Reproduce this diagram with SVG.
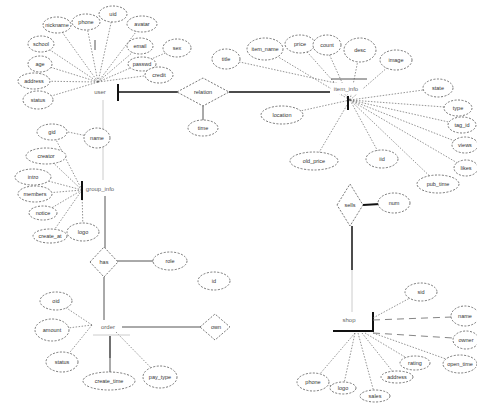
<svg xmlns="http://www.w3.org/2000/svg" width="477" height="408" viewBox="0 0 477 408">
<style>
.at{fill:#fff;stroke:#555;stroke-width:0.8;stroke-dasharray:2 1.5}
.rl{fill:#fff;stroke:#555;stroke-width:0.8;stroke-dasharray:2 1.5}
.dl{stroke:#666;stroke-width:0.7;stroke-dasharray:1.5 1.5;fill:none}
.ld{stroke:#777;stroke-width:0.9;stroke-dasharray:7 5;fill:none}
.sl{stroke:#555;stroke-width:1;fill:none}
.fl{stroke:#ccc;stroke-width:1;fill:none}
.tk{stroke:#111;stroke-width:2;fill:none}
.bg{fill:#fff;stroke:none}
.t{font-family:"Liberation Sans",sans-serif;font-size:5.5px;fill:#333;text-anchor:middle;dominant-baseline:central}
.et{font-family:"Liberation Sans",sans-serif;font-size:6px;fill:#666;text-anchor:middle;dominant-baseline:central}
</style>
<rect width="477" height="408" fill="#fff"/>
<g id="connectors">
  <line class="dl" x1="98" y1="82" x2="57" y2="25"/>
  <line class="dl" x1="98" y1="82" x2="86" y2="22"/>
  <line class="dl" x1="98" y1="82" x2="113" y2="14"/>
  <line class="dl" x1="98" y1="82" x2="142" y2="24"/>
  <line class="dl" x1="98" y1="82" x2="140" y2="46"/>
  <line class="dl" x1="98" y1="82" x2="142" y2="63"/>
  <line class="dl" x1="98" y1="82" x2="159" y2="74"/>
  <line class="dl" x1="98" y1="82" x2="41" y2="44"/>
  <line class="dl" x1="98" y1="82" x2="40" y2="64"/>
  <line class="dl" x1="98" y1="82" x2="34" y2="81"/>
  <line class="dl" x1="98" y1="82" x2="38" y2="100"/>
  <line class="dl" x1="142" y1="63" x2="177" y2="48"/>
  <line class="sl" x1="95" y1="40" x2="95" y2="50"/>
  <line class="tk" x1="118" y1="84" x2="118" y2="101"/>
  <line class="tk" x1="118" y1="92" x2="178" y2="92" style="stroke-width:1.5"/>
  <line class="sl" x1="203" y1="105" x2="203" y2="121"/>
  <line class="tk" x1="229" y1="92" x2="330" y2="92" style="stroke-width:1.5"/>
  <line class="fl" x1="103" y1="100" x2="103" y2="180"/>
  <line class="dl" x1="350" y1="100" x2="265" y2="49"/>
  <line class="dl" x1="350" y1="100" x2="300" y2="44"/>
  <line class="dl" x1="350" y1="100" x2="325" y2="45"/>
  <line class="dl" x1="350" y1="100" x2="360" y2="50"/>
  <line class="dl" x1="350" y1="100" x2="396" y2="60"/>
  <line class="dl" x1="350" y1="100" x2="438" y2="88"/>
  <line class="dl" x1="350" y1="100" x2="458" y2="108"/>
  <line class="dl" x1="350" y1="100" x2="462" y2="125"/>
  <line class="dl" x1="350" y1="100" x2="465" y2="145"/>
  <line class="dl" x1="350" y1="100" x2="466" y2="168"/>
  <line class="dl" x1="350" y1="100" x2="438" y2="184"/>
  <line class="dl" x1="350" y1="100" x2="382" y2="159"/>
  <line class="dl" x1="350" y1="100" x2="314" y2="161"/>
  <line class="dl" x1="350" y1="100" x2="282" y2="115"/>
  <line class="dl" x1="340" y1="84" x2="226" y2="59"/>
  <line class="sl" x1="331" y1="79" x2="367" y2="79"/>
  <line class="tk" x1="348" y1="96" x2="348" y2="110"/>
  <line class="tk" x1="363" y1="205" x2="380" y2="204"/>
  <line class="tk" x1="352" y1="226" x2="352" y2="270" style="stroke-width:1.5"/>
  <line class="fl" x1="352" y1="270" x2="352" y2="312"/>
  <line class="dl" x1="82" y1="190" x2="52" y2="132"/>
  <line class="dl" x1="68" y1="132" x2="97" y2="138"/>
  <line class="dl" x1="82" y1="190" x2="46" y2="156"/>
  <line class="dl" x1="82" y1="190" x2="33" y2="177"/>
  <line class="dl" x1="82" y1="190" x2="35" y2="194"/>
  <line class="dl" x1="82" y1="190" x2="43" y2="213"/>
  <line class="dl" x1="82" y1="190" x2="50" y2="236"/>
  <line class="dl" x1="82" y1="190" x2="83" y2="232"/>
  <line class="tk" x1="82" y1="181" x2="82" y2="200"/>
  <line class="sl" x1="105" y1="196" x2="105" y2="248"/>
  <line class="sl" x1="117" y1="261" x2="155" y2="261"/>
  <line class="sl" x1="104" y1="277" x2="104" y2="320"/>
  <line class="sl" x1="122" y1="327" x2="201" y2="327"/>
  <line class="dl" x1="92" y1="325" x2="56" y2="301"/>
  <line class="dl" x1="92" y1="325" x2="52" y2="330"/>
  <line class="dl" x1="92" y1="325" x2="62" y2="362"/>
  <line class="dl" x1="116" y1="332" x2="160" y2="377"/>
  <line class="fl" x1="93" y1="335" x2="130" y2="335"/>
  <line class="tk" x1="110" y1="336" x2="110" y2="358" style="stroke-width:1.2"/>
  <line class="sl" x1="110" y1="358" x2="110" y2="372"/>
  <line class="tk" x1="373" y1="312" x2="373" y2="332"/>
  <line class="tk" x1="333" y1="331" x2="374" y2="331"/>
  <line class="dl" x1="373" y1="318" x2="421" y2="292"/>
  <line class="ld" x1="373" y1="320" x2="452" y2="317"/>
  <line class="ld" x1="373" y1="333" x2="453" y2="338"/>
  <line class="dl" x1="373" y1="333" x2="460" y2="364"/>
  <line class="dl" x1="365" y1="333" x2="415" y2="363"/>
  <line class="dl" x1="362" y1="333" x2="397" y2="377"/>
  <line class="dl" x1="355" y1="333" x2="313" y2="382"/>
  <line class="dl" x1="355" y1="333" x2="343" y2="388"/>
  <line class="dl" x1="358" y1="333" x2="375" y2="396"/>
  <line class="dl" x1="343" y1="388" x2="313" y2="382"/>
</g>
<g id="e_user"><rect class="bg" x="86" y="86" width="30" height="12"/><text class="et" x="100" y="92">user</text></g>
<g id="e_item"><rect class="bg" x="331" y="83" width="32" height="11"/><text class="et" x="346" y="89">item_info</text></g>
<g id="e_group"><rect class="bg" x="85" y="184" width="32" height="11"/><text class="et" x="100" y="189">group_info</text></g>
<g id="e_order"><rect class="bg" x="96" y="322" width="24" height="10"/><text class="et" x="108" y="327">order</text></g>
<g id="e_shop"><rect class="bg" x="338" y="315" width="24" height="10"/><text class="et" x="349" y="320">shop</text></g>
<g id="r1"><polygon class="rl" points="177,92 203,78 229,92 203,106"/><text class="t" x="203" y="92">relation</text></g>
<g id="r2"><polygon class="rl" points="90,262 104,247 118,262 104,277"/><text class="t" x="104" y="262">has</text></g>
<g id="r3"><polygon class="rl" points="200,327 215,314 230,327 215,340"/><text class="t" x="216" y="327">own</text></g>
<g id="r4"><polygon class="rl" points="337,205 350,184 363,205 350,226"/><text class="t" x="350" y="205">sells</text></g>
<g id="a1"><ellipse class="at" cx="57" cy="25" rx="14" ry="8"/><text class="t" x="57" y="25">nickname</text></g>
<g id="a2"><ellipse class="at" cx="86" cy="22" rx="14" ry="8"/><text class="t" x="86" y="22">phone</text></g>
<g id="a3"><ellipse class="at" cx="113" cy="14" rx="14" ry="8"/><text class="t" x="113" y="14">uid</text></g>
<g id="a4"><ellipse class="at" cx="142" cy="24" rx="15" ry="8"/><text class="t" x="142" y="24">avatar</text></g>
<g id="a5"><ellipse class="at" cx="140" cy="46" rx="13" ry="8"/><text class="t" x="140" y="46">email</text></g>
<g id="a6"><ellipse class="at" cx="177" cy="48" rx="14" ry="9"/><text class="t" x="177" y="48">sex</text></g>
<g id="a7"><ellipse class="at" cx="142" cy="64" rx="14" ry="7"/><text class="t" x="142" y="64">passwd</text></g>
<g id="a8"><ellipse class="at" cx="159" cy="75" rx="14" ry="8"/><text class="t" x="159" y="75">credit</text></g>
<g id="a9"><ellipse class="at" cx="41" cy="44" rx="13" ry="8"/><text class="t" x="41" y="44">school</text></g>
<g id="a10"><ellipse class="at" cx="40" cy="64" rx="12" ry="8"/><text class="t" x="40" y="64">age</text></g>
<g id="a11"><ellipse class="at" cx="34" cy="81" rx="16" ry="8"/><text class="t" x="34" y="81">address</text></g>
<g id="a12"><ellipse class="at" cx="38" cy="100" rx="15" ry="9"/><text class="t" x="38" y="100">status</text></g>
<g id="a13"><ellipse class="at" cx="203" cy="128" rx="15" ry="8"/><text class="t" x="203" y="128">time</text></g>
<g id="e0"><ellipse class="at" cx="226" cy="59" rx="14" ry="10"/><text class="t" x="226" y="59">title</text></g>
<g id="e1"><ellipse class="at" cx="265" cy="49" rx="18" ry="11"/><text class="t" x="265" y="49">item_name</text></g>
<g id="e2"><ellipse class="at" cx="300" cy="44" rx="15" ry="9"/><text class="t" x="300" y="44">price</text></g>
<g id="e3"><ellipse class="at" cx="327" cy="45" rx="14" ry="10"/><text class="t" x="327" y="45">count</text></g>
<g id="e4"><ellipse class="at" cx="360" cy="50" rx="16" ry="12"/><text class="t" x="360" y="50">desc</text></g>
<g id="e5"><ellipse class="at" cx="396" cy="60" rx="16" ry="10"/><text class="t" x="396" y="60">image</text></g>
<g id="e6"><ellipse class="at" cx="438" cy="88" rx="15" ry="9"/><text class="t" x="438" y="88">state</text></g>
<g id="e7"><ellipse class="at" cx="458" cy="108" rx="14" ry="8"/><text class="t" x="458" y="108">type</text></g>
<g id="e8"><ellipse class="at" cx="462" cy="125" rx="14" ry="8"/><text class="t" x="462" y="125">tag_id</text></g>
<g id="e9"><ellipse class="at" cx="465" cy="145" rx="13" ry="8"/><text class="t" x="465" y="145">views</text></g>
<g id="e10"><ellipse class="at" cx="466" cy="168" rx="12" ry="8"/><text class="t" x="466" y="168">likes</text></g>
<g id="e11"><ellipse class="at" cx="438" cy="184" rx="21" ry="9"/><text class="t" x="438" y="184">pub_time</text></g>
<g id="e12"><ellipse class="at" cx="382" cy="159" rx="16" ry="9"/><text class="t" x="382" y="159">iid</text></g>
<g id="e13"><ellipse class="at" cx="314" cy="161" rx="24" ry="9"/><text class="t" x="314" y="161">old_price</text></g>
<g id="e14"><ellipse class="at" cx="282" cy="115" rx="21" ry="9"/><text class="t" x="282" y="115">location</text></g>
<g id="f1"><ellipse class="at" cx="394" cy="203" rx="16" ry="10"/><text class="t" x="394" y="203">num</text></g>
<g id="b1"><ellipse class="at" cx="52" cy="132" rx="15" ry="8"/><text class="t" x="52" y="132">gid</text></g>
<g id="b2"><ellipse class="at" cx="97" cy="138" rx="13" ry="10"/><text class="t" x="97" y="138">name</text></g>
<g id="b3"><ellipse class="at" cx="46" cy="156" rx="20" ry="8"/><text class="t" x="46" y="156">creator</text></g>
<g id="b4"><ellipse class="at" cx="33" cy="177" rx="18" ry="8"/><text class="t" x="33" y="177">intro</text></g>
<g id="b5"><ellipse class="at" cx="35" cy="194" rx="17" ry="8"/><text class="t" x="35" y="194">members</text></g>
<g id="b6"><ellipse class="at" cx="43" cy="213" rx="14" ry="7"/><text class="t" x="43" y="213">notice</text></g>
<g id="b7"><ellipse class="at" cx="50" cy="236" rx="17" ry="7"/><text class="t" x="50" y="236">create_at</text></g>
<g id="b8"><ellipse class="at" cx="83" cy="232" rx="16" ry="9"/><text class="t" x="83" y="232">logo</text></g>
<g id="c1"><ellipse class="at" cx="170" cy="261" rx="17" ry="9"/><text class="t" x="170" y="261">role</text></g>
<g id="c2"><ellipse class="at" cx="214" cy="281" rx="16" ry="9"/><text class="t" x="214" y="281">id</text></g>
<g id="d1"><ellipse class="at" cx="56" cy="301" rx="16" ry="9"/><text class="t" x="56" y="301">oid</text></g>
<g id="d2"><ellipse class="at" cx="52" cy="330" rx="17" ry="11"/><text class="t" x="52" y="330">amount</text></g>
<g id="d3"><ellipse class="at" cx="62" cy="362" rx="16" ry="10"/><text class="t" x="62" y="362">status</text></g>
<g id="d4"><ellipse class="at" cx="109" cy="381" rx="26" ry="9"/><text class="t" x="109" y="381">create_time</text></g>
<g id="d5"><ellipse class="at" cx="160" cy="377" rx="17" ry="11"/><text class="t" x="160" y="377">pay_type</text></g>
<g id="g1"><ellipse class="at" cx="421" cy="292" rx="16" ry="9"/><text class="t" x="421" y="292">sid</text></g>
<g id="g2"><ellipse class="at" cx="465" cy="316" rx="14" ry="10"/><text class="t" x="465" y="316">name</text></g>
<g id="g3"><ellipse class="at" cx="466" cy="340" rx="13" ry="9"/><text class="t" x="466" y="340">owner</text></g>
<g id="g4"><ellipse class="at" cx="460" cy="364" rx="17" ry="9"/><text class="t" x="460" y="364">open_time</text></g>
<g id="g5"><ellipse class="at" cx="415" cy="363" rx="15" ry="7"/><text class="t" x="415" y="363">rating</text></g>
<g id="g6"><ellipse class="at" cx="397" cy="377" rx="16" ry="6"/><text class="t" x="397" y="377">address</text></g>
<g id="g7"><ellipse class="at" cx="313" cy="382" rx="16" ry="9"/><text class="t" x="313" y="382">phone</text></g>
<g id="g8"><ellipse class="at" cx="343" cy="388" rx="13" ry="6"/><text class="t" x="343" y="388">logo</text></g>
<g id="g9"><ellipse class="at" cx="375" cy="396" rx="15" ry="6"/><text class="t" x="375" y="396">sales</text></g>
</svg>
